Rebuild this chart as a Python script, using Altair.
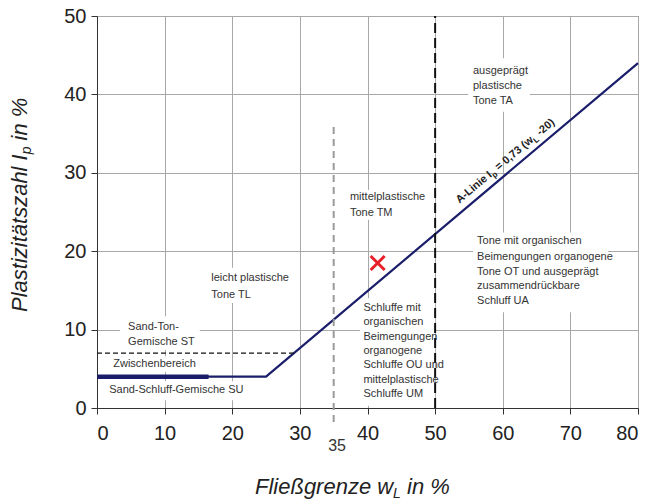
import altair as alt
import pandas as pd

# ---------------- data ----------------
X_TICKS = [0, 10, 20, 30, 40, 50, 60, 70, 80]
Y_TICKS = [0, 10, 20, 30, 40, 50]

ALINE_WL = [0, 25, 80]          # A-Linie incl. horizontal part at Ip = 4
ALINE_IP = [4, 4, 44]
SU_BAR_WL = [0, 16.5]           # thick part of the Ip = 4 boundary
SU_BAR_IP = [4, 4]
ST_WL = [0, 29.1]               # upper limit Zwischenbereich (Ip = 7)
ST_IP = [7, 7]
WL50 = [50]
WL50_IP = [0, 50]
WL35 = [35]
WL35_IP = [-1.8, 36]
SAMPLE_WL = [41.5]
SAMPLE_IP = [18.5]

ZONE_TEXT = [
    "Sand-Ton-", "Gemische ST", "Zwischenbereich", "Sand-Schluff-Gemische SU",
    "leicht plastische", "Tone TL",
    "mittelplastische", "Tone TM",
    "Schluffe mit", "organischen", "Beimengungen", "organogene",
    "Schluffe OU und", "mittelplastische", "Schluffe UM",
    "ausgeprägt", "plastische", "Tone TA",
    "Tone mit organischen", "Beimengungen organogene", "Tone OT und ausgeprägt",
    "zusammendrückbare", "Schluff UA",
]
ZONE_WL = [4.6, 4.6, 2.4, 1.8,
           16.9, 16.9,
           37.4, 37.4,
           39.4, 39.4, 39.4, 39.4, 39.4, 39.4, 39.4,
           55.6, 55.6, 55.6,
           56.2, 56.2, 56.2, 56.2, 56.2]
ZONE_IP = [10.37, 8.38, 5.57, 2.3,
           16.6, 14.4,
           26.9, 24.9,
           12.8, 10.95, 9.1, 7.3, 5.45, 3.6, 1.75,
           43.0, 41.1, 39.1,
           21.3, 19.3, 17.3, 15.5, 13.6]

# white text boxes behind the zone labels
BOX_WL1 = [3.4, 1.6, 1.0, 16.0, 36.7, 38.9, 54.9, 55.6]
BOX_WL2 = [15.2, 15.2, 21.1, 28.5, 48.5, 50.0, 64.0, 75.6]
BOX_IP1 = [7.4, 4.6, 1.0, 13.4, 24.0, 0.3, 37.8, 12.2]
BOX_IP2 = [11.7, 6.6, 3.4, 17.9, 27.8, 14.0, 44.6, 22.4]

NAVY = "#1a1e6a"
TXT = "#333333"
SANS = "Liberation Sans, Arial, sans-serif"

xs = alt.Scale(domain=[0, 80], nice=False)
ys = alt.Scale(domain=[0, 50], nice=False)

xax = alt.Axis(values=X_TICKS, grid=True, title=None, tickSize=6, labelPadding=9,
               labelFontSize=20, labelFont=SANS, labelColor="#222222",
               domainColor="#333333", tickColor="#333333", gridColor="#a8a8a8")
yax = alt.Axis(values=Y_TICKS, grid=True, title=None, tickSize=6, labelPadding=5,
               labelFontSize=20, labelFont=SANS, labelColor="#222222",
               domainColor="#333333", tickColor="#333333", gridColor="#a8a8a8")

boxes = alt.Chart(pd.DataFrame({"x1": BOX_WL1, "x2": BOX_WL2, "y1": BOX_IP1, "y2": BOX_IP2})).mark_rect(
    fill="white").encode(
    x=alt.X("x1:Q", scale=xs, axis=xax), x2="x2:Q",
    y=alt.Y("y1:Q", scale=ys, axis=yax), y2="y2:Q")

def line_layer(xv, yv, **kw):
    return alt.Chart(pd.DataFrame({"wl": xv, "ip": yv})).mark_line(**kw).encode(
        x=alt.X("wl:Q", scale=xs), y=alt.Y("ip:Q", scale=ys))

aline = line_layer(ALINE_WL, ALINE_IP, color=NAVY, strokeWidth=2.2)
su_bar = line_layer(SU_BAR_WL, SU_BAR_IP, color=NAVY, strokeWidth=4.5)
st_line = line_layer(ST_WL, ST_IP, color="#111111", strokeWidth=1.3, strokeDash=[5, 3])

def vrule(xv, yv, **kw):
    return alt.Chart(pd.DataFrame({"wl": xv, "y1": [yv[0]], "y2": [yv[1]]})).mark_rule(**kw).encode(
        x=alt.X("wl:Q", scale=xs), y=alt.Y("y1:Q", scale=ys), y2="y2:Q")

r50 = vrule(WL50, WL50_IP, color="#111111", strokeWidth=2, strokeDash=[10, 5])
r35 = vrule(WL35, WL35_IP, color="#9a9a9a", strokeWidth=2, strokeDash=[7, 5])

sample = alt.Chart(pd.DataFrame({"wl": SAMPLE_WL, "ip": SAMPLE_IP})).mark_point(
    shape="M-1,-1L1,1M-1,1L1,-1", size=196, filled=False, color="#e8202a", strokeWidth=3,
    opacity=1).encode(x=alt.X("wl:Q", scale=xs), y=alt.Y("ip:Q", scale=ys))

zones = alt.Chart(pd.DataFrame({"t": ZONE_TEXT, "wl": ZONE_WL, "ip": ZONE_IP})).mark_text(
    align="left", baseline="middle", font=SANS, fontSize=11, color=TXT).encode(
    x=alt.X("wl:Q", scale=xs), y=alt.Y("ip:Q", scale=ys), text="t:N")

# A-Linie label, written along the line
ALABEL_PARTS = ["A-Linie I", "p", "= 0,73 (w", "L", "-20)"]
ALABEL_DX = [0, 43.4, 51.4, 97.6, 105.5]
ALABEL_SUB = [False, True, False, True, False]
lab_wl = 54.3
lab_ip = ALINE_IP[1] + (lab_wl - ALINE_WL[1]) * (ALINE_IP[2] - ALINE_IP[1]) / (ALINE_WL[2] - ALINE_WL[1])
alabel = []
for txt, dx, sub in zip(ALABEL_PARTS, ALABEL_DX, ALABEL_SUB):
    alabel.append(alt.Chart(pd.DataFrame({"t": [txt], "wl": [lab_wl], "ip": [lab_ip]})).mark_text(
        align="left", baseline="alphabetic", angle=320, dx=dx, dy=-4.5 if sub else -7.5,
        font=SANS, fontWeight="bold", fontSize=8 if sub else 11, color="#222222").encode(
        x=alt.X("wl:Q", scale=xs), y=alt.Y("ip:Q", scale=ys), text="t:N"))

lab35 = alt.Chart(pd.DataFrame({"t": ["35"], "wl": [35.5]})).mark_text(
    align="center", baseline="middle", font=SANS, fontSize=16, color=TXT).encode(
    x=alt.X("wl:Q", scale=xs), y=alt.value(430), text="t:N")

def ptext(txt, px, py, size, angle=0, dx=0, dy=0):
    return alt.Chart(pd.DataFrame({"t": [txt]})).mark_text(
        align="left", baseline="alphabetic", font=SANS, fontStyle="italic", fontSize=size,
        angle=angle, dx=dx, dy=dy, color="#222222").encode(
        x=alt.value(px), y=alt.value(py), text="t:N")

XT = ["Fließgrenze w", "L", "in %"]
YT = ["Plastizitätszahl I", "p", "in %"]
titles = [
    ptext(XT[0], 158, 478, 22),
    ptext(XT[1], 296, 482, 14),
    ptext(XT[2], 310, 478, 22),
    ptext(YT[0], -70, 296, 22, angle=270),
    ptext(YT[1], -70, 296, 14, angle=270, dx=157.7, dy=4),
    ptext(YT[2], -70, 296, 22, angle=270, dx=171.6),
]

chart = alt.layer(boxes, aline, su_bar, st_line, r35, r50, sample, zones, *alabel, lab35, *titles).properties(
    width=541, height=392,
    autosize=alt.AutoSizeParams(type="none"),
    padding={"left": 97, "top": 16, "right": 11, "bottom": 96},
    background="white",
).configure_view(stroke="#555555", strokeWidth=1)

chart.save("out.html", embed_options={"renderer": "svg", "actions": False})
